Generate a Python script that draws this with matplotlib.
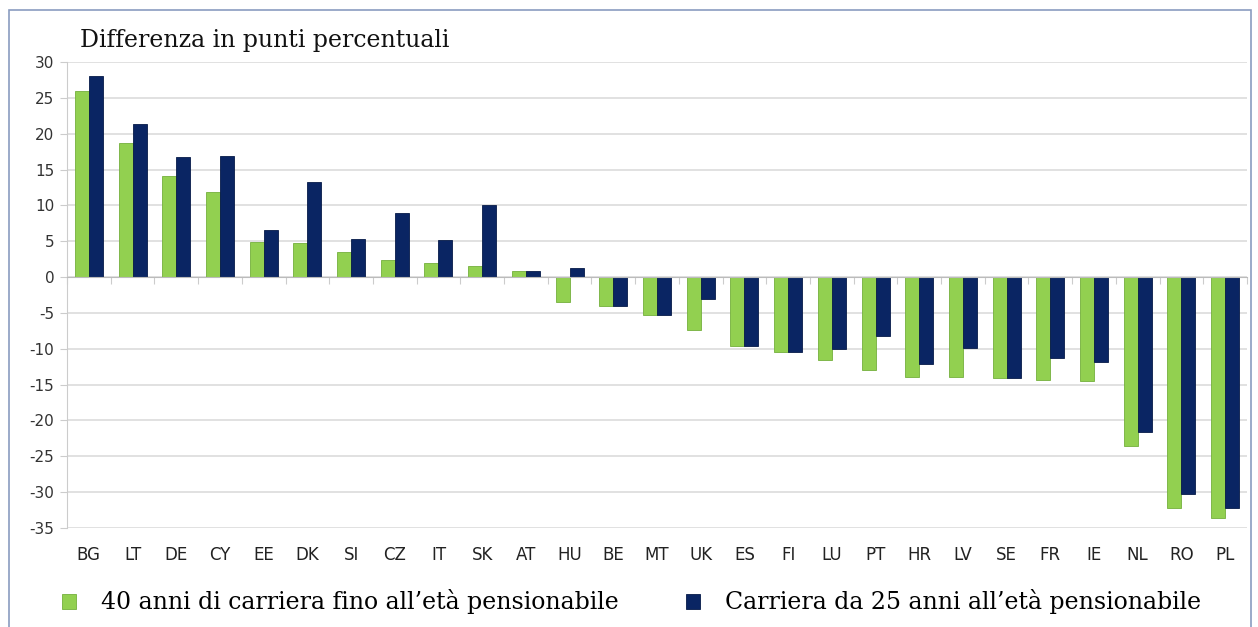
import numpy as np
import matplotlib
matplotlib.use('Agg')
from matplotlib import pyplot as plt
from matplotlib.patches import Rectangle

# paesi e valori (punti percentuali)
paesi = ['BG', 'LT', 'DE', 'CY', 'EE', 'DK', 'SI', 'CZ', 'IT', 'SK', 'AT', 'HU', 'BE', 'MT',
         'UK', 'ES', 'FI', 'LU', 'PT', 'HR', 'LV', 'SE', 'FR', 'IE', 'NL', 'RO', 'PL']
carriera_40 = [26.0, 18.7, 14.1, 11.9, 4.9, 4.8, 3.5, 2.4, 1.9, 1.5, 0.9, -3.5, -4.0, -5.3,
               -7.4, -9.6, -10.5, -11.5, -12.9, -13.9, -13.9, -14.1, -14.3, -14.5, -23.5, -32.2, -33.6]
carriera_25 = [28.0, 21.3, 16.7, 16.9, 6.5, 13.2, 5.3, 9.0, 5.2, 10.0, 0.9, 1.2, -4.0, -5.3,
               -3.0, -9.6, -10.5, -10.0, -8.2, -12.1, -9.9, -14.1, -11.3, -11.8, -21.6, -30.3, -32.2]
y_ticks = list(range(-35, 31, 5))

fig = plt.figure(figsize=(12.58, 6.27), dpi=100)
ax = fig.add_axes([67/1258, 1-528/627, (1247-67)/1258, (528-62)/627])

x = np.arange(len(paesi))
w = 0.32
b1 = ax.bar(x - w/2, carriera_40, w, color='#92d050', edgecolor='#74b03c', linewidth=0.6,
            label='40 anni di carriera fino all\u2019età pensionabile', zorder=3)
b2 = ax.bar(x + w/2, carriera_25, w, color='#0a2563', edgecolor='#061a48', linewidth=0.6,
            label='Carriera da 25 anni all\u2019età pensionabile', zorder=3)

ax.set_xlim(-0.5, len(paesi) - 0.5)
ax.set_ylim(-35, 30)
ax.set_yticks(y_ticks)
ax.set_yticklabels([str(v) for v in y_ticks], fontsize=11, color='#333333')
ax.grid(axis='y', color='#dcdcdc', linewidth=1.2, zorder=0)
ax.tick_params(axis='y', length=5, color='#cccccc', pad=4)

for s in ['top', 'right']:
    ax.spines[s].set_visible(False)
ax.spines['left'].set_color('#cccccc')
ax.spines['bottom'].set_position(('data', 0))
ax.spines['bottom'].set_color('#bbbbbb')
ax.spines['bottom'].set_zorder(4)
ax.set_xticks(np.arange(len(paesi) + 1) - 0.5)
ax.set_xticklabels([])
ax.tick_params(axis='x', length=5, color='#cccccc', direction='out')

# etichette dei paesi sotto il grafico
for i, p in enumerate(paesi):
    ax.text(i, -0.058, p, transform=ax.get_xaxis_transform(), ha='center', va='center',
            fontsize=12, color='#222222')

fig.text(80/1258, 1-40/627, 'Differenza in punti percentuali', fontsize=17,
         family='DejaVu Serif', va='center', ha='left', color='#111111')

fig.legend(handles=[b1, b2], loc='center left', bbox_to_anchor=(50/1258, 1-602/627),
           ncol=2, frameon=False, borderpad=0, handlelength=0.6, handleheight=0.6,
           columnspacing=2.85, handletextpad=1.05,
           prop={'family': 'DejaVu Serif', 'size': 17})

# cornice esterna
fig.patches.append(Rectangle((9/1258, -0.05), 1242/1258, 1.05 - 10/627, transform=fig.transFigure,
                             fill=False, edgecolor='#8a9cc0', linewidth=1.2))

fig.savefig('out.png', dpi=100)
